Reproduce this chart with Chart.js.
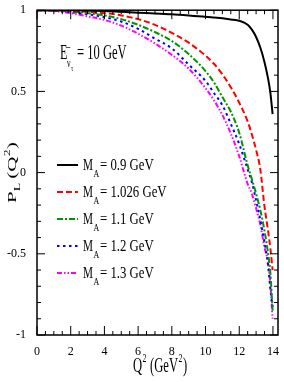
<!DOCTYPE html>
<html>
<head>
<meta charset="utf-8">
<title>P_L(Q^2)</title>
<script src="https://cdn.jsdelivr.net/npm/chart.js@4.4.0/dist/chart.umd.min.js"></script>
<style>
    html, body { margin: 0; padding: 0; background: #fff; }
    canvas { display: block; }
</style>
</head>
<body>
<canvas id="chart" width="284" height="382"></canvas>
<script>
// --- DATA ---
const Q2 = [0, 1, 2, 3, 4, 5, 6, 7, 8, 9, 10, 10.5, 11, 11.5, 12, 12.5, 12.75, 13, 13.25, 13.5, 13.7, 13.85, 13.98];

const PL_MA_090 = [1, 1, 0.999, 0.997, 0.995, 0.99, 0.985, 0.98, 0.975, 0.968, 0.96, 0.955, 0.95, 0.943, 0.935, 0.91, 0.88, 0.835, 0.77, 0.68, 0.585, 0.49, 0.36];
const PL_MA_1026 = [1, 0.999, 0.996, 0.99, 0.982, 0.968, 0.945, 0.91, 0.86, 0.8, 0.72, 0.67, 0.605, 0.525, 0.43, 0.315, 0.235, 0.14, 0.02, -0.21, -0.35, -0.47, -0.6];
const PL_MA_110 = [1, 0.998, 0.992, 0.982, 0.968, 0.945, 0.91, 0.865, 0.81, 0.73, 0.625, 0.555, 0.465, 0.375, 0.245, 0.045, -0.04, -0.13, -0.23, -0.36, -0.49, -0.62, -0.85];
const PL_MA_120 = [1, 0.997, 0.988, 0.975, 0.957, 0.93, 0.885, 0.825, 0.765, 0.665, 0.565, 0.49, 0.415, 0.3, 0.175, 0.02, -0.06, -0.17, -0.29, -0.43, -0.56, -0.72, -0.83];
const PL_MA_130 = [1, 0.995, 0.982, 0.962, 0.94, 0.905, 0.855, 0.795, 0.725, 0.64, 0.52, 0.445, 0.355, 0.24, 0.1, -0.07, -0.13, -0.22, -0.32, -0.46, -0.55, -0.69, -0.9];

const MA_VALUES = ['0.9', '1.026', '1.1', '1.2', '1.3'];
const X_TICKS = [0, 2, 4, 6, 8, 10, 12, 14];
const Y_TICKS = [-1, -0.5, 0, 0.5, 1];

// --- STYLES ---
const SERIES = [
    { values: PL_MA_090, color: '#000000', dash: [] },
    { values: PL_MA_1026, color: '#ff0000', dash: [6, 3] },
    { values: PL_MA_110, color: '#009400', dash: [6, 2, 2, 2] },
    { values: PL_MA_120, color: '#0000ff', dash: [2.5, 3.5] },
    { values: PL_MA_130, color: '#ff00ff', dash: [5, 2, 1.5, 2, 1.5, 2] },
];
const SERIF = '"Liberation Serif", "Times New Roman", serif';

// draws a run of text squeezed horizontally, returns the width used
function squeezed(ctx, str, x, y, size, sx) {
    ctx.save();
    ctx.translate(x, y);
    ctx.scale(sx, 1);
    ctx.font = size + 'px ' + SERIF;
    ctx.fillText(str, 0, 0);
    const w = ctx.measureText(str).width * sx;
    ctx.restore();
    return w;
}

const frameAndText = {
    id: 'frameAndText',
    afterDatasetsDraw(chart) {
        const { ctx, chartArea: a, scales: { x, y } } = chart;
        ctx.save();
        ctx.strokeStyle = '#000';
        ctx.fillStyle = '#000';

        // frame
        ctx.lineWidth = 1.5;
        ctx.strokeRect(a.left, a.top, a.right - a.left, a.bottom - a.top);

        // inward ticks on all four sides
        ctx.lineWidth = 1;
        const seg = (x1, y1, x2, y2) => { ctx.beginPath(); ctx.moveTo(x1, y1); ctx.lineTo(x2, y2); ctx.stroke(); };
        for (let i = 0; i <= 28; i++) {
            const px = x.getPixelForValue(i * 0.5);
            const len = i % 4 === 0 ? 9 : 4;
            seg(px, a.bottom, px, a.bottom - len);
            seg(px, a.top, px, a.top + len);
        }
        for (let i = -10; i <= 10; i++) {
            const py = y.getPixelForValue(i * 0.1);
            const len = i % 5 === 0 ? 8 : 4;
            seg(a.left, py, a.left + len, py);
            seg(a.right, py, a.right - len, py);
        }

        // energy annotation
        ctx.textBaseline = 'alphabetic';
        squeezed(ctx, 'E', 60, 59, 22, 0.55);
        squeezed(ctx, '\u2212', 66, 52, 14, 0.6);
        squeezed(ctx, '\u03bd', 67, 67, 13, 0.6);
        squeezed(ctx, '\u03c4', 71, 71, 9, 0.6);
        squeezed(ctx, '= 10 GeV', 77, 59, 22, 0.57);

        // legend
        SERIES.forEach((s, i) => {
            const ly = 165 + 27 * i;
            ctx.save();
            ctx.strokeStyle = s.color;
            ctx.lineWidth = 2;
            ctx.setLineDash(s.dash);
            seg(57, ly, 78, ly);
            ctx.restore();
            let tx = 83;
            tx += squeezed(ctx, 'M', tx, ly + 5, 16, 0.7);
            squeezed(ctx, 'A', tx + 0.5, ly + 12, 11, 0.72);
            squeezed(ctx, '= ' + MA_VALUES[i] + ' GeV', 100, ly + 5, 16, 0.8);
        });

        // x axis title
        let tx = 133;
        tx += squeezed(ctx, 'Q', tx, 372, 21, 0.6);
        tx += squeezed(ctx, '2', tx + 0.5, 362, 13, 0.6) + 4;
        tx += squeezed(ctx, '(GeV', tx, 372, 21, 0.6);
        tx += squeezed(ctx, '2', tx + 0.5, 362, 13, 0.6);
        squeezed(ctx, ')', tx + 1, 372, 21, 0.6);

        // y axis title, rotated; squeeze applies across the glyphs
        ctx.save();
        ctx.translate(16, 203);
        ctx.rotate(-Math.PI / 2);
        ctx.scale(1, 0.6);
        ctx.font = '21px ' + SERIF;
        let ty = 0;
        ctx.fillText('P', ty, 0); ty += ctx.measureText('P').width;
        ctx.font = '14px ' + SERIF;
        ctx.fillText('L', ty, 7); ty += ctx.measureText('L').width + 4;
        ctx.font = '21px ' + SERIF;
        ctx.fillText('(Q', ty, 0); ty += ctx.measureText('(Q').width;
        ctx.font = '13px ' + SERIF;
        ctx.fillText('2', ty + 0.5, -10); ty += ctx.measureText('2').width + 1;
        ctx.font = '21px ' + SERIF;
        ctx.fillText(')', ty, 0);
        ctx.restore();

        ctx.restore();
    }
};

const tickFont = { family: SERIF, size: 12 };

new Chart(document.getElementById('chart'), {
    type: 'line',
    data: {
        datasets: SERIES.map((s, i) => ({
            label: 'M_A = ' + MA_VALUES[i] + ' GeV',
            data: Q2.map((q, j) => ({ x: q, y: s.values[j] })),
            borderColor: s.color,
            borderDash: s.dash,
            borderWidth: 2,
            pointRadius: 0,
            fill: false,
            cubicInterpolationMode: 'monotone',
        }))
    },
    options: {
        responsive: false,
        animation: false,
        layout: { padding: { top: 6, right: 6, left: 0, bottom: 0 } },
        plugins: { legend: { display: false }, tooltip: { enabled: false } },
        scales: {
            x: {
                type: 'linear', min: 0, max: 14.3,
                grid: { display: false }, border: { display: false },
                afterBuildTicks: s => { s.ticks = X_TICKS.map(v => ({ value: v })); },
                afterFit: s => { s.height = 47; },
                ticks: { font: tickFont, color: '#000', padding: 2, maxRotation: 0, autoSkip: false, callback: v => String(v) }
            },
            y: {
                type: 'linear', min: -1, max: 1,
                grid: { display: false }, border: { display: false },
                afterBuildTicks: s => { s.ticks = Y_TICKS.map(v => ({ value: v })); },
                afterFit: s => { s.width = 37; },
                ticks: { font: tickFont, color: '#000', padding: 3, autoSkip: false, callback: v => String(v) }
            }
        }
    },
    plugins: [frameAndText]
});
</script>
</body>
</html>
